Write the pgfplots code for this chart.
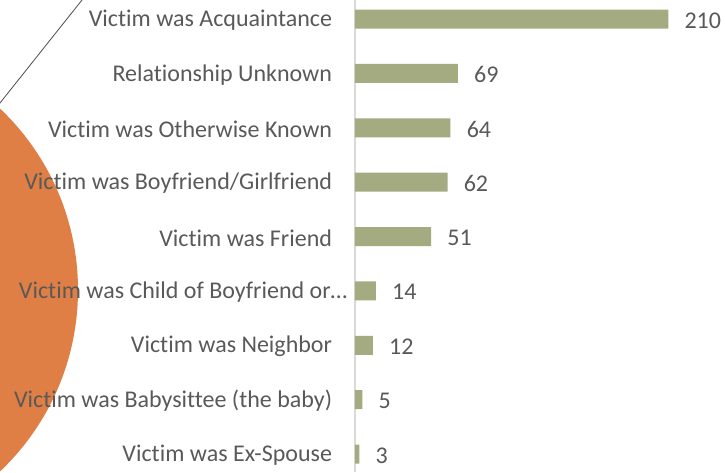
\documentclass[border=0pt]{standalone}
\usepackage{pgfplots}
\pgfplotsset{compat=1.18}
\usepackage{fontspec}
\setmainfont{Carlito}[Ligatures={NoCommon,NoContextual},RawFeature={-liga;-clig}]
\definecolor{barolive}{HTML}{A5AB81}
\definecolor{pieorange}{HTML}{DF7F46}
\definecolor{txtgray}{HTML}{595959}
\definecolor{axgray}{HTML}{D9D9D9}

\begin{document}
\begin{tikzpicture}
% picture frame, 725 x 472 px (1px = 0.75pt)
\clip (0pt,0pt) rectangle (543.75pt,354pt);
% piece of the pie on the left and its connector line
\fill[pieorange] (-129pt,136.5pt) circle (187.5pt);
\draw[black!70, line width=0.6pt] (73.8pt,369.45pt) -- (-12.3pt,261.3pt);
\begin{axis}[
    at={(266.25pt,0pt)}, anchor=south west,
    scale only axis,
    width=277.5pt, height=354pt,
    xbar,
    bar width=14.25pt,
    xmin=0, xmax=248,
    ymin=-0.35, ymax=8.33,
    y dir=reverse,
    axis x line=none,
    axis y line*=left,
    y axis line style={axgray, line width=1pt},
    ytick={0,...,8},
    yticklabels={Victim was Acquaintance, Relationship Unknown, Victim was Otherwise Known,
        Victim was Boyfriend/Girlfriend, Victim was Friend,
        {\makebox[\dimexpr\width-11.5pt\relax][l]{Victim was Child of Boyfriend or\dots}},
        Victim was Neighbor, Victim was Babysittee (the baby), Victim was Ex-Spouse},
    major tick length=0pt,
    yticklabel style={font=\fontsize{18}{20}\selectfont, text=txtgray, inner sep=0pt, xshift=-17pt, yshift=-1pt},
    /pgf/number format/assume math mode=true,
    nodes near coords,
    nodes near coords style={font=\fontsize{18}{20}\selectfont, text=txtgray, anchor=west, inner sep=0pt, xshift=12pt, yshift=-1pt},
    clip=false,
]
\addplot[fill=barolive, draw=none] coordinates {
    (210,0) (69,1) (64,2) (62,3) (51,4) (14,5) (12,6) (5,7) (3,8)
};
\end{axis}
\end{tikzpicture}
\end{document}
